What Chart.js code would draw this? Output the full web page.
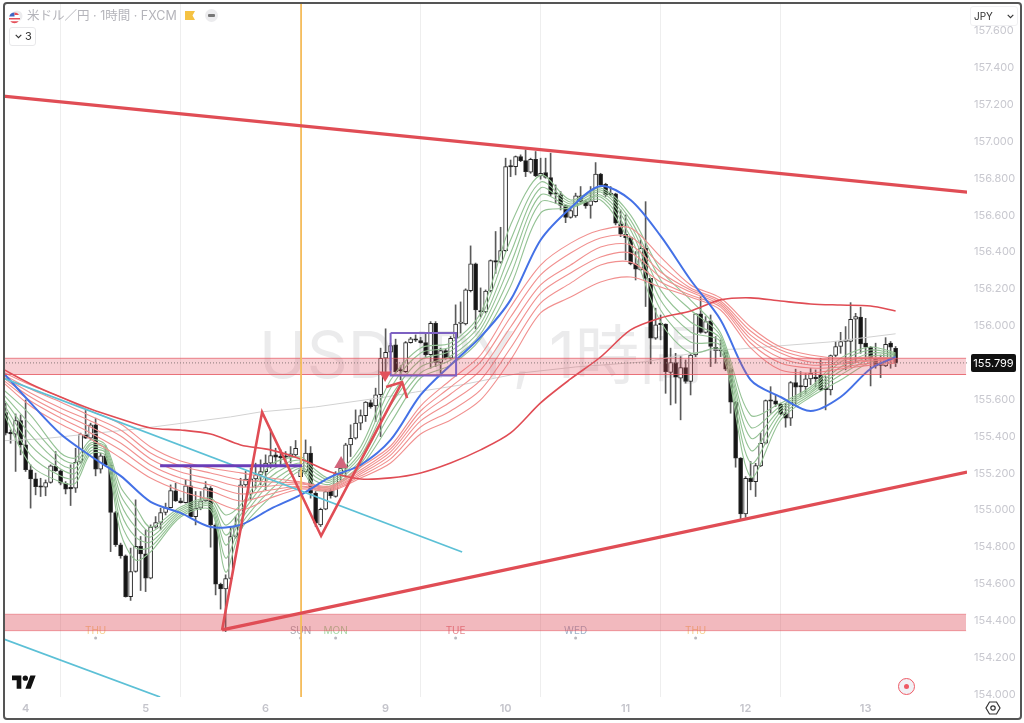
<!DOCTYPE html>
<html>
<head>
<meta charset="utf-8">
<style>
  html, body { margin: 0; padding: 0; background: #fff; }
  #wrap { position: relative; width: 1024px; height: 723px; overflow: hidden; font-family: Inter, "Noto Sans CJK JP", sans-serif; }
  canvas { position: absolute; left: 0; top: 0; }
  .abs { position: absolute; }
  #frame { left: 3px; top: 2px; width: 1015px; height: 714px; border: 2px solid #555; border-radius: 4px; pointer-events: none; }
  #title { left: 27px; top: 8px; font-size: 12.5px; line-height: 16px; color: #b4b4ba; white-space: nowrap; font-family: Inter, "Noto Sans CJK JP", sans-serif; }
  #flagmark { left: 185px; top: 11px; }
  #minus { left: 205px; top: 9px; width: 13px; height: 13px; border-radius: 50%; background: #ececee; }
  #minus i { position: absolute; left: 3px; top: 5px; width: 7px; height: 3px; border-radius: 1px; background: #777; }
  #legendbox { left: 9px; top: 27px; width: 25px; height: 17px; border: 1px solid #e8e8ea; border-radius: 3px; background: #fff; color: #333; font-size: 11px; line-height: 17px; }
  #legendbox span { position: absolute; left: 15px; top: 0; }
  #jpybox { left: 970px; top: 6px; width: 46px; height: 18px; border: 1px solid #f0f0f2; border-radius: 3px; background: #fff; color: #333; font-size: 10px; line-height: 18px; }
  #jpybox span { position: absolute; left: 3px; top: 0; }
  #target { left: 898px; top: 678px; width: 15px; height: 15px; border: 1.5px solid #ef5a65; border-radius: 50%; background: #f1f1f5; }
  #target i { position: absolute; left: 5px; top: 5px; width: 5px; height: 5px; border-radius: 50%; background: #ef5a65; }
</style>
</head>
<body>
<div id="wrap">
  <canvas id="chart" width="1024" height="723"></canvas>
  <div id="frame" class="abs"></div>
  <svg class="abs" style="left:8px;top:10px" width="16" height="15" viewBox="0 0 16 15">
    <circle cx="9" cy="6" r="5.5" fill="#ececee"/>
    <circle cx="6.5" cy="8" r="5.5" fill="#fff"/>
    <path d="M1.2 6.5a5.5 5.5 0 0 1 5.3-4v4z" fill="#3f66c4"/>
    <path d="M6.5 2.5a5.5 5.5 0 0 1 4.6 2.4H6.5zM1 8h11v1.6H1zM2.2 11.2h8.6a5.5 5.5 0 0 1-8.6 0z" fill="#e5505a"/>
  </svg>
  <div id="title" class="abs">米ドル／円 · 1時間 · FXCM</div>
  <svg id="flagmark" class="abs" width="10" height="9" viewBox="0 0 10 9"><path d="M0 0h10L7.5 4.5 10 9H0z" fill="#f5c242"/></svg>
  <div id="minus" class="abs"><i></i></div>
  <div id="legendbox" class="abs">
    <svg class="abs" style="left:5px;top:6px" width="7" height="5" viewBox="0 0 7 5"><path d="M.7.8l2.8 2.8L6.3.8" fill="none" stroke="#333" stroke-width="1.1"/></svg>
    <span>3</span>
  </div>
  <div id="jpybox" class="abs">
    <span>JPY</span>
    <svg class="abs" style="left:36px;top:7px" width="7" height="5" viewBox="0 0 7 5"><path d="M.7.8l2.8 2.8L6.3.8" fill="none" stroke="#333" stroke-width="1.1"/></svg>
  </div>
  <svg class="abs" style="left:12px;top:674px" width="24" height="15" viewBox="0 0 36 22">
    <path d="M14 22H7V9H0V2h14v20zM28 22h-8l7.5-20h8L28 22z" fill="#111"/><circle cx="20" cy="6" r="4" fill="#111"/>
  </svg>
  <div id="target" class="abs"><i></i></div>
  <svg class="abs" style="left:985px;top:701px" width="16" height="14" viewBox="0 0 16 14">
    <path d="M4.5 1h7L15 7l-3.500 6h-7L1 7z" fill="none" stroke="#333" stroke-width="1.2"/><circle cx="8" cy="7" r="2.2" fill="none" stroke="#333" stroke-width="1.2"/>
  </svg>
</div>

<script src="https://cdn.jsdelivr.net/npm/chart.js@4/dist/chart.umd.js"></script>
<script>
'use strict';

// Candles, one per hour
const opens = [
    155.530, 155.418, 155.412, 155.486, 155.354, 155.219, 155.170, 155.128, 155.125, 155.150,
    155.238, 155.213, 155.146, 155.119, 155.119, 155.260, 155.412, 155.390, 155.463, 155.222,
    155.295, 155.244, 154.987, 154.812, 154.752, 154.531, 154.667, 154.803, 154.763, 154.631,
    154.907, 154.933, 154.987, 155.014, 155.105, 155.050, 155.041, 155.132, 154.965, 155.011,
    155.050, 155.119, 154.920, 154.598, 154.573, 154.629, 154.857, 154.902, 155.137, 155.088,
    155.170, 155.191, 155.209, 155.255, 155.300, 155.287, 155.291, 155.287, 155.300, 155.182,
    155.209, 155.309, 155.092, 154.920, 155.005, 155.106, 155.074, 155.197, 155.228, 155.354,
    155.390, 155.472, 155.513, 155.584, 155.566, 155.626, 155.824, 155.857, 155.897, 155.759,
    155.752, 155.909, 155.929, 155.920, 155.909, 155.843, 156.014, 155.801, 155.866, 155.824,
    155.933, 156.013, 156.011, 156.191, 156.336, 156.083, 156.075, 156.189, 156.354, 156.345,
    156.408, 156.866, 156.864, 156.919, 156.897, 156.834, 156.904, 156.814, 156.832, 156.805,
    156.716, 156.711, 156.653, 156.589, 156.597, 156.705, 156.674, 156.653, 156.674, 156.823,
    156.768, 156.716, 156.716, 156.553, 156.497, 156.479, 156.336, 156.304, 156.421, 156.258,
    155.933, 156.011, 156.009, 155.748, 155.801, 155.716, 155.774, 155.698, 155.842, 156.065,
    155.965, 156.027, 155.884, 155.868, 155.866, 155.765, 155.585, 155.282, 154.980, 155.173,
    155.155, 155.240, 155.363, 155.595, 155.593, 155.575, 155.522, 155.499, 155.692, 155.672,
    155.670, 155.712, 155.716, 155.734, 155.658, 155.652, 155.839, 155.888, 155.915, 155.915,
    156.036, 156.047, 155.906, 155.884, 155.819, 155.790, 155.783, 155.906, 155.878
];
const highs = [
    155.580, 155.436, 155.522, 155.517, 155.598, 155.246, 155.201, 155.173, 155.164, 155.246,
    155.318, 155.219, 155.155, 155.246, 155.336, 155.418, 155.541, 155.472, 155.499, 155.309,
    155.349, 155.255, 154.993, 154.821, 154.757, 154.794, 155.056, 154.857, 154.893, 154.920,
    154.965, 155.011, 155.038, 155.137, 155.146, 155.065, 155.164, 155.237, 155.101, 155.101,
    155.155, 155.128, 154.929, 154.604, 154.649, 154.911, 154.965, 155.173, 155.210, 155.228,
    155.255, 155.273, 155.300, 155.439, 155.336, 155.327, 155.318, 155.345, 155.378, 155.282,
    155.381, 155.345, 155.101, 155.011, 155.110, 155.119, 155.209, 155.273, 155.363, 155.463,
    155.544, 155.544, 155.589, 155.598, 155.662, 155.879, 155.984, 155.906, 155.928, 155.783,
    155.915, 155.938, 155.951, 155.938, 155.960, 156.023, 156.023, 155.879, 155.873, 155.942,
    156.114, 156.130, 156.201, 156.434, 156.341, 156.206, 156.195, 156.358, 156.512, 156.535,
    156.910, 156.900, 156.922, 156.928, 156.955, 156.910, 156.946, 156.910, 156.910, 156.937,
    156.765, 156.729, 156.656, 156.647, 156.720, 156.756, 156.683, 156.756, 156.886, 156.828,
    156.774, 156.756, 156.720, 156.629, 156.602, 156.484, 156.403, 156.466, 156.674, 156.258,
    156.096, 156.059, 156.011, 155.879, 155.851, 155.833, 155.815, 155.851, 156.068, 156.159,
    156.050, 156.059, 155.942, 155.924, 155.869, 155.770, 155.590, 155.285, 155.182, 155.264,
    155.254, 155.417, 155.598, 155.670, 155.625, 155.580, 155.580, 155.698, 155.765, 155.752,
    155.743, 155.770, 155.761, 155.824, 155.725, 155.842, 155.915, 155.965, 155.996, 156.126,
    156.068, 156.101, 156.041, 155.888, 155.906, 155.842, 155.936, 155.915, 155.888
];
const lows = [
    155.408, 155.363, 155.210, 155.300, 155.210, 155.011, 155.083, 155.074, 155.078, 155.146,
    155.210, 155.137, 155.088, 155.025, 155.096, 155.255, 155.388, 155.381, 155.186, 155.201,
    155.237, 154.775, 154.803, 154.739, 154.528, 154.510, 154.663, 154.564, 154.558, 154.627,
    154.902, 154.893, 154.974, 155.011, 155.047, 155.038, 155.038, 154.963, 154.920, 155.002,
    155.047, 154.799, 154.540, 154.463, 154.341, 154.622, 154.848, 154.893, 155.128, 155.056,
    155.119, 155.137, 155.110, 155.228, 155.237, 155.246, 155.255, 155.255, 155.291, 155.182,
    155.200, 155.065, 154.911, 154.911, 155.002, 155.065, 155.070, 155.155, 155.182, 155.291,
    155.385, 155.436, 155.481, 155.553, 155.481, 155.399, 155.725, 155.761, 155.743, 155.707,
    155.747, 155.906, 155.915, 155.906, 155.834, 155.770, 155.779, 155.743, 155.819, 155.819,
    155.928, 155.961, 156.005, 156.184, 155.983, 156.048, 156.070, 156.184, 156.285, 156.340,
    156.403, 156.810, 156.819, 156.891, 156.810, 156.828, 156.810, 156.796, 156.801, 156.705,
    156.665, 156.629, 156.560, 156.584, 156.589, 156.665, 156.638, 156.584, 156.671, 156.756,
    156.702, 156.705, 156.548, 156.484, 156.358, 156.331, 156.249, 156.300, 156.105, 155.794,
    155.927, 155.924, 155.634, 155.571, 155.580, 155.490, 155.689, 155.625, 155.833, 155.960,
    155.960, 155.779, 155.797, 155.833, 155.757, 155.526, 155.233, 154.947, 154.961, 155.110,
    155.074, 155.236, 155.359, 155.526, 155.562, 155.517, 155.450, 155.459, 155.571, 155.616,
    155.634, 155.680, 155.670, 155.649, 155.544, 155.625, 155.833, 155.851, 155.761, 155.779,
    155.806, 155.851, 155.815, 155.674, 155.770, 155.719, 155.779, 155.770, 155.779
];
const closes = [
    155.418, 155.414, 155.486, 155.354, 155.219, 155.170, 155.128, 155.124, 155.150, 155.240,
    155.213, 155.146, 155.114, 155.115, 155.260, 155.412, 155.390, 155.463, 155.222, 155.295,
    155.244, 154.987, 154.812, 154.752, 154.531, 154.667, 154.803, 154.763, 154.631, 154.907,
    154.933, 154.987, 155.014, 155.106, 155.050, 155.041, 155.132, 154.965, 155.011, 155.050,
    155.123, 154.920, 154.598, 154.573, 154.629, 154.857, 154.911, 155.137, 155.168, 155.170,
    155.191, 155.209, 155.255, 155.296, 155.287, 155.285, 155.287, 155.305, 155.336, 155.219,
    155.309, 155.092, 154.929, 155.005, 155.101, 155.078, 155.197, 155.228, 155.354, 155.390,
    155.472, 155.513, 155.586, 155.562, 155.626, 155.824, 155.857, 155.893, 155.752, 155.755,
    155.909, 155.929, 155.922, 155.909, 155.843, 156.014, 155.801, 155.866, 155.824, 155.933,
    156.009, 156.018, 156.195, 156.336, 156.086, 156.075, 156.189, 156.354, 156.345, 156.408,
    156.864, 156.862, 156.919, 156.897, 156.837, 156.904, 156.814, 156.828, 156.806, 156.714,
    156.714, 156.653, 156.589, 156.626, 156.705, 156.674, 156.651, 156.678, 156.823, 156.765,
    156.711, 156.712, 156.557, 156.497, 156.479, 156.336, 156.307, 156.421, 156.258, 155.933,
    156.005, 156.007, 155.752, 155.801, 155.721, 155.774, 155.698, 155.842, 156.065, 155.965,
    156.023, 155.888, 155.866, 155.864, 155.765, 155.586, 155.282, 154.980, 155.173, 155.155,
    155.242, 155.363, 155.595, 155.591, 155.575, 155.522, 155.499, 155.692, 155.667, 155.668,
    155.712, 155.743, 155.714, 155.652, 155.654, 155.839, 155.888, 155.915, 155.918, 156.036,
    156.050, 155.902, 155.884, 155.824, 155.783, 155.786, 155.900, 155.884, 155.799
];

const maHours = [-1, 5, 11, 17, 23, 29, 35, 41, 47, 53, 59, 65, 71, 77, 83, 89, 95, 101, 107, 113, 119, 125, 131, 137, 143, 149, 155, 161, 167, 173, 178];
const blueMa = [155.761, 155.582, 155.413, 155.294, 155.186, 155.045, 154.985, 154.909, 154.920, 155.007, 155.083, 155.180, 155.245, 155.381, 155.625, 155.788, 155.940, 156.141, 156.466, 156.640, 156.759, 156.683, 156.488, 156.249, 156.032, 155.707, 155.614, 155.538, 155.614, 155.767, 155.831];
const longMa = [155.772, 155.685, 155.614, 155.549, 155.495, 155.446, 155.435, 155.413, 155.354, 155.327, 155.278, 155.207, 155.169, 155.175, 155.202, 155.256, 155.327, 155.419, 155.582, 155.712, 155.831, 155.978, 156.043, 156.081, 156.141, 156.152, 156.135, 156.119, 156.113, 156.108, 156.081];

const red1 = [155.755, 155.679, 155.614, 155.538, 155.467, 155.343, 155.267, 155.229, 155.202, 155.174, 155.153, 155.131, 155.234, 155.348, 155.565, 155.706, 155.842, 156.102, 156.330, 156.449, 156.520, 156.531, 156.374, 156.222, 156.151, 155.994, 155.885, 155.842, 155.825, 155.831, 155.825];
const red2 = [155.744, 155.657, 155.587, 155.511, 155.435, 155.310, 155.240, 155.202, 155.164, 155.153, 155.147, 155.126, 155.218, 155.332, 155.538, 155.668, 155.804, 156.048, 156.276, 156.395, 156.477, 156.482, 156.330, 156.205, 156.135, 155.972, 155.869, 155.825, 155.815, 155.825, 155.820];
const red3 = [155.733, 155.636, 155.554, 155.484, 155.402, 155.278, 155.207, 155.169, 155.126, 155.131, 155.142, 155.120, 155.207, 155.316, 155.511, 155.630, 155.760, 155.994, 156.222, 156.330, 156.428, 156.439, 156.292, 156.194, 156.124, 155.950, 155.853, 155.804, 155.804, 155.815, 155.815];
const red4 = [155.728, 155.614, 155.527, 155.451, 155.364, 155.245, 155.174, 155.136, 155.088, 155.109, 155.131, 155.115, 155.196, 155.299, 155.484, 155.587, 155.706, 155.940, 156.178, 156.287, 156.374, 156.395, 156.265, 156.184, 156.113, 155.929, 155.825, 155.788, 155.793, 155.809, 155.809];
const red5 = [155.717, 155.592, 155.500, 155.419, 155.326, 155.212, 155.142, 155.104, 155.050, 155.088, 155.126, 155.109, 155.185, 155.278, 155.451, 155.538, 155.652, 155.880, 156.124, 156.232, 156.330, 156.346, 156.238, 156.167, 156.102, 155.907, 155.798, 155.771, 155.777, 155.798, 155.804];
const red6 = [155.706, 155.565, 155.467, 155.386, 155.283, 155.174, 155.104, 155.055, 155.001, 155.066, 155.115, 155.104, 155.174, 155.256, 155.413, 155.489, 155.598, 155.815, 156.070, 156.156, 156.238, 156.265, 156.211, 156.156, 156.086, 155.880, 155.760, 155.744, 155.766, 155.787, 155.798];

const greenHours = [-1, 5, 11, 14, 17, 20, 23, 26, 29, 35, 41, 44, 47, 53, 59, 62, 65, 71, 77, 83, 89, 95, 101, 107, 113, 119, 125, 131, 137, 143, 149, 155, 161, 167, 173, 178];
const green1 = [155.668, 155.516, 155.310, 155.283, 155.381, 155.353, 155.126, 155.017, 154.908, 155.017, 155.066, 154.974, 155.028, 155.245, 155.288, 155.218, 155.174, 155.343, 155.706, 155.880, 155.907, 156.070, 156.547, 156.818, 156.683, 156.748, 156.601, 156.303, 156.140, 155.961, 155.516, 155.581, 155.668, 155.825, 155.885, 155.853];
const green2 = [155.646, 155.462, 155.283, 155.256, 155.364, 155.343, 155.082, 154.963, 154.881, 155.006, 155.055, 154.919, 155.001, 155.212, 155.272, 155.201, 155.163, 155.315, 155.663, 155.853, 155.885, 156.043, 156.466, 156.780, 156.672, 156.737, 156.574, 156.249, 156.086, 155.945, 155.451, 155.565, 155.657, 155.804, 155.869, 155.847];
const green3 = [155.625, 155.408, 155.250, 155.229, 155.353, 155.332, 155.039, 154.908, 154.854, 154.995, 155.039, 154.865, 154.974, 155.180, 155.256, 155.180, 155.153, 155.294, 155.614, 155.815, 155.863, 156.010, 156.395, 156.748, 156.661, 156.726, 156.547, 156.194, 156.021, 155.929, 155.392, 155.549, 155.646, 155.777, 155.853, 155.842];
const green4 = [155.603, 155.353, 155.223, 155.201, 155.337, 155.321, 154.990, 154.854, 154.827, 154.985, 155.028, 154.811, 154.946, 155.147, 155.239, 155.158, 155.142, 155.272, 155.570, 155.777, 155.836, 155.983, 156.336, 156.710, 156.650, 156.710, 156.520, 156.140, 155.967, 155.912, 155.326, 155.533, 155.636, 155.755, 155.836, 155.836];
const green5 = [155.581, 155.299, 155.185, 155.174, 155.321, 155.310, 154.936, 154.795, 154.800, 154.974, 155.017, 154.740, 154.919, 155.109, 155.229, 155.131, 155.131, 155.250, 155.527, 155.744, 155.815, 155.956, 156.276, 156.672, 156.645, 156.699, 156.482, 156.086, 155.912, 155.891, 155.256, 155.511, 155.625, 155.733, 155.820, 155.831];
const green6 = [155.560, 155.245, 155.153, 155.147, 155.305, 155.294, 154.876, 154.729, 154.773, 154.963, 155.001, 154.664, 154.892, 155.071, 155.212, 155.109, 155.120, 155.234, 155.473, 155.717, 155.787, 155.929, 156.216, 156.612, 156.639, 156.683, 156.439, 156.021, 155.853, 155.869, 155.180, 155.489, 155.614, 155.706, 155.804, 155.825];

const greyHours = [-1, 7, 28, 45, 51, 62, 76, 82, 91, 103, 114, 128, 141, 147, 165, 178];
const greyMa = [155.376, 155.386, 155.446, 155.506, 155.533, 155.560, 155.614, 155.641, 155.679, 155.744, 155.777, 155.805, 155.869, 155.875, 155.913, 155.957];

// Drawings on the chart
const zoneHours = [-1, 192.1];
const upperZone = [155.824, 155.736];
const lowerZone = [154.435, 154.346];
const lastPrice = 155.799;

const upperTrendHours = [-0.5, 192.3];
const upperTrend = [157.247, 156.726];
const lowerTrendHours = [43.3, 192.3];
const lowerTrend = [154.350, 155.207];
const zigzagHours = [43.3, 51.3, 63.1, 79.3];
const zigzag = [154.350, 155.532, 154.860, 155.695];
const arrowHours = [76.1, 79.3, 80.3];
const arrow = [155.668, 155.695, 155.608];
const tealHours1 = [-0.5, 91.3];
const teal1 = [155.717, 154.773];
const tealHours2 = [-0.5, 30.9];
const teal2 = [154.301, 153.986];
const levelHours = [30.9, 59.3];
const level = [155.241, 155.241];
const boxHours = [77, 90.1, 90.1, 77, 77];
const box = [155.961, 155.961, 155.730, 155.730, 155.961];
const sunHour = 59.1;
const axisMin = -0.52;
const axisMax = 192.28;
const priceMin = 153.986;
const priceMax = 157.752;
const upMarker = [{ x: 67.1, y: 155.25 }];
const downMarker = [{ x: 75.9, y: 155.733 }];

// Axis labels
const dayHours = [4, 28, 52, 76, 100, 124, 148, 172];
const dayLabels = ['4', '5', '6', '9', '10', '11', '12', '13'];
const gridHours = [11, 35, 59, 83, 107, 131, 155];
const priceTicks = [154, 154.2, 154.4, 154.6, 154.8, 155, 155.2, 155.4, 155.6, 155.8, 156, 156.2, 156.4, 156.6, 156.8, 157, 157.2, 157.4, 157.6];

// Session markers above the time axis
const sessionHours = [18, 59, 66, 90, 114, 138];
const sessionLabels = ['THU', 'SUN', 'MON', 'TUE', 'WED', 'THU'];
const sessionColors = ['#f6cf8f', '#a9a9b0', '#a5d8a5', '#e58a90', '#9fb2c8', '#f6cf8f'];

const RED = '#e04d55';

function pairs(xs, ys) {
    return xs.map((x, i) => ({ x: x, y: ys[i] }));
}

function lineSet(xs, ys, color, width, order, extra) {
    return Object.assign({
        type: 'line',
        data: pairs(xs, ys),
        borderColor: color,
        borderWidth: width,
        pointRadius: 0,
        tension: 0,
        fill: false,
        order: order
    }, extra || {});
}

// the axes must span the plot edge to edge, no room for half a label
function noEdgePadding(scale) {
    scale.paddingLeft = 0;
    scale.paddingRight = 0;
    scale.paddingTop = 0;
    scale.paddingBottom = 0;
}

const candleHours = opens.map((_, i) => i);

const datasets = [];

// wicks then bodies
datasets.push({
    type: 'bar',
    data: candleHours.map(i => ({ x: i, y: [lows[i], highs[i]] })),
    backgroundColor: '#5a5a5a',
    barThickness: 1,
    grouped: false,
    order: 61
});
datasets.push({
    type: 'bar',
    data: candleHours.map(i => ({ x: i, y: [opens[i], closes[i]] })),
    backgroundColor: candleHours.map(i => (closes[i] > opens[i] ? '#ffffff' : '#141414')),
    borderColor: '#262626',
    borderWidth: 1,
    borderSkipped: false,
    barThickness: 4,
    minBarLength: 1.5,
    grouped: false,
    order: 60
});

[green1, green2, green3, green4, green5, green6].forEach(s => {
    datasets.push(lineSet(greenHours, s, '#94c294', 1.1, 45, { tension: 0.3 }));
});
[red1, red2, red3, red4, red5, red6].forEach(s => {
    datasets.push(lineSet(maHours, s, '#f1908f', 1.1, 44, { tension: 0.3 }));
});
datasets.push(lineSet(greyHours, greyMa, '#d2d2d2', 1, 46));
datasets.push(lineSet(maHours, blueMa, '#4471e6', 2, 42, { tension: 0.3 }));
datasets.push(lineSet(maHours, longMa, '#e04c54', 1.6, 43, { tension: 0.3 }));

// zones sit over the candles
datasets.push(lineSet(zoneHours, [upperZone[0], upperZone[0]], 'rgba(228,82,92,0.7)', 1, 30, {
    fill: { value: upperZone[1] },
    backgroundColor: 'rgba(225,80,95,0.27)'
}));
datasets.push(lineSet(zoneHours, [upperZone[1], upperZone[1]], 'rgba(228,82,92,0.8)', 1, 29));
datasets.push(lineSet(zoneHours, [lowerZone[0], lowerZone[0]], 'rgba(228,82,92,0.5)', 1, 30, {
    fill: { value: lowerZone[1] },
    backgroundColor: 'rgba(220,70,85,0.38)'
}));
datasets.push(lineSet(zoneHours, [lowerZone[1], lowerZone[1]], 'rgba(228,82,92,0.5)', 1, 29));
datasets.push(lineSet([axisMin, axisMax], [lastPrice, lastPrice], '#8a7a7a', 1, 28, { borderDash: [1, 2] }));

// hand drawn tools
datasets.push(lineSet([sunHour, sunHour], [priceMin, priceMax], '#f6bd5c', 1.8, 20));
datasets.push(lineSet(tealHours1, teal1, '#5cc0d6', 1.8, 16));
datasets.push(lineSet(tealHours2, teal2, '#5cc0d6', 1.8, 16));
datasets.push(lineSet(levelHours, level, '#6a3db8', 3, 15));
datasets.push(lineSet(boxHours, box, '#7d61c2', 2, 14));
datasets.push(lineSet(upperTrendHours, upperTrend, RED, 3.2, 12));
datasets.push(lineSet(lowerTrendHours, lowerTrend, RED, 3.2, 12));
datasets.push(lineSet(zigzagHours, zigzag, RED, 2.6, 11));
datasets.push(lineSet(arrowHours, arrow, RED, 2.6, 11));
datasets.push({
    type: 'scatter', data: upMarker, pointStyle: 'triangle', pointRadius: 8,
    backgroundColor: '#d2667c', borderWidth: 0, order: 10
});
datasets.push({
    type: 'scatter', data: downMarker, pointStyle: 'triangle', pointRotation: 180, pointRadius: 7,
    backgroundColor: '#e2525c', borderWidth: 0, order: 10
});

// watermark and session labels go under the candles, price tag on top
const extras = {
    id: 'extras',
    beforeDatasetsDraw(chart) {
        const { ctx, scales: { x } } = chart;
        ctx.save();
        ctx.font = '64px Inter, "Noto Sans CJK JP", sans-serif';
        ctx.fillStyle = 'rgba(60,60,70,0.10)';
        ctx.textAlign = 'left';
        ctx.textBaseline = 'alphabetic';
        ctx.fillText('USDJPY, 1時間', 259, 378);

        ctx.font = '10px Inter, sans-serif';
        ctx.textAlign = 'center';
        ctx.textBaseline = 'middle';
        sessionHours.forEach((h, i) => {
            const px = x.getPixelForValue(h);
            ctx.fillStyle = sessionColors[i];
            ctx.fillText(sessionLabels[i], px, 631);
            ctx.fillStyle = '#b9b9bf';
            ctx.beginPath();
            ctx.arc(px, 638, 1.5, 0, Math.PI * 2);
            ctx.fill();
        });
        ctx.restore();
    },
    afterDraw(chart) {
        const { ctx, scales: { y } } = chart;
        const py = y.getPixelForValue(lastPrice);
        ctx.save();
        ctx.fillStyle = '#111';
        ctx.beginPath();
        ctx.roundRect(971, py - 9, 45, 18, 2);
        ctx.fill();
        ctx.fillStyle = '#fff';
        ctx.font = '11px Inter, sans-serif';
        ctx.textAlign = 'center';
        ctx.textBaseline = 'middle';
        ctx.fillText(lastPrice.toFixed(3), 993.5, py + 0.5);
        ctx.restore();
    }
};

new Chart(document.getElementById('chart'), {
    data: { datasets: datasets },
    plugins: [extras],
    options: {
        responsive: false,
        animation: false,
        events: [],
        parsing: { xAxisKey: 'x', yAxisKey: 'y' },
        layout: { autoPadding: false, padding: { left: 3, right: 4, top: 3, bottom: 5 } },
        plugins: { legend: { display: false }, tooltip: { enabled: false } },
        scales: {
            x: {
                type: 'linear',
                position: 'bottom',
                min: axisMin,
                max: axisMax,
                offset: false,
                grid: { display: false, drawTicks: false },
                border: { display: false },
                afterBuildTicks(scale) { scale.ticks = dayHours.map(v => ({ value: v })); },
                afterFit(scale) { scale.height = 21; noEdgePadding(scale); },
                ticks: {
                    autoSkip: false,
                    maxRotation: 0,
                    padding: 5,
                    color: '#c4c4cb',
                    font: { family: 'Inter, sans-serif', size: 11, weight: '600' },
                    callback: v => dayLabels[dayHours.indexOf(v)]
                }
            },
            gridX: {
                type: 'linear',
                position: 'top',
                min: axisMin,
                max: axisMax,
                border: { display: false },
                grid: { color: '#eeeeee', lineWidth: 1, drawTicks: false },
                afterBuildTicks(scale) { scale.ticks = gridHours.map(v => ({ value: v })); },
                afterFit(scale) { scale.height = 0; noEdgePadding(scale); },
                ticks: { display: false }
            },
            y: {
                type: 'linear',
                position: 'right',
                min: priceMin,
                max: priceMax,
                grid: { display: false, drawTicks: false },
                border: { display: false },
                afterBuildTicks(scale) { scale.ticks = priceTicks.map(v => ({ value: v })); },
                afterFit(scale) { scale.width = 53; noEdgePadding(scale); },
                ticks: {
                    autoSkip: false,
                    padding: 7,
                    color: '#c8c8cf',
                    font: { family: 'Inter, sans-serif', size: 11 },
                    callback: v => v.toFixed(3)
                }
            }
        }
    }
});
</script>
</body>
</html>
